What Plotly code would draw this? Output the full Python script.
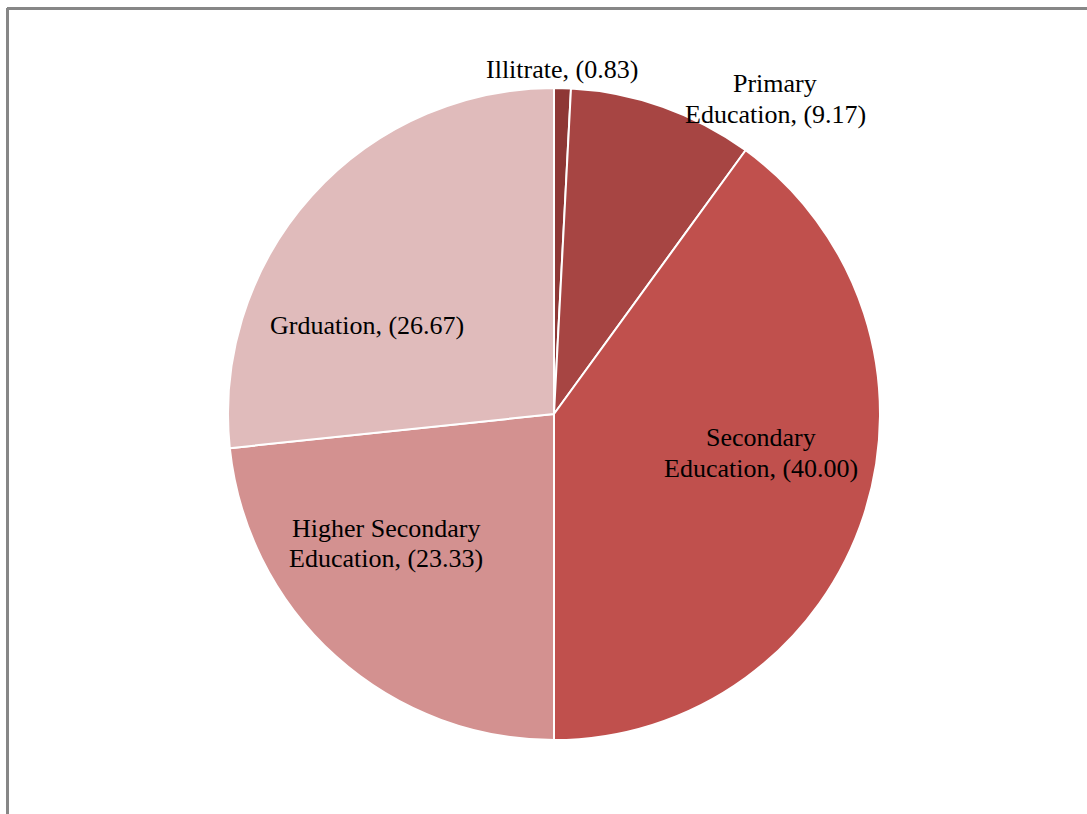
import plotly.graph_objects as go

labels = ["Illitrate", "Primary Education", "Secondary Education",
          "Higher Secondary Education", "Grduation"]
values = [0.83, 9.17, 40.00, 23.33, 26.67]
colors = ["#8E3735", "#A74543", "#C0504D", "#D39190", "#E0BBBB"]
label_lines = [["Illitrate, (0.83)"], ["Primary", "Education, (9.17)"],
               ["Secondary", "Education, (40.00)"],
               ["Higher Secondary", "Education, (23.33)"], ["Grduation, (26.67)"]]
label_pos = [(562, 70), (775, 99), (761, 453), (386, 543), (367, 326)]
LINE_GAP = 30

W, H = 1087, 814
cx, cy, r = 554, 414, 326

fig = go.Figure(go.Pie(
    labels=labels, values=values, sort=False, direction="clockwise",
    rotation=0, marker=dict(colors=colors, line=dict(color="white", width=2)),
    textinfo="none", hoverinfo="label+value", showlegend=False,
    domain=dict(x=[(cx - r) / W, (cx + r) / W], y=[(H - cy - r) / H, (H - cy + r) / H]),
))

for lines, (x, y) in zip(label_lines, label_pos):
    n = len(lines)
    for i, t in enumerate(lines):
        ly = y + (i - (n - 1) / 2) * LINE_GAP
        fig.add_annotation(x=x / W, y=1 - ly / H, xref="paper", yref="paper", text=t,
                           showarrow=False, xanchor="center", yanchor="middle",
                           font=dict(family="Times New Roman, Liberation Serif, serif", size=26, color="black"))

fig.add_shape(type="line", xref="paper", yref="paper", x0=7 / W, x1=1.01, y0=1 - 8.5 / H, y1=1 - 8.5 / H,
              line=dict(color="#878787", width=3))
fig.add_shape(type="line", xref="paper", yref="paper", x0=7.5 / W, x1=7.5 / W, y0=-0.01, y1=1 - 8 / H,
              line=dict(color="#878787", width=3))

fig.update_layout(width=W, height=H, margin=dict(l=0, r=0, t=0, b=0),
                  paper_bgcolor="white", plot_bgcolor="white")
fig.write_html("out.html")
